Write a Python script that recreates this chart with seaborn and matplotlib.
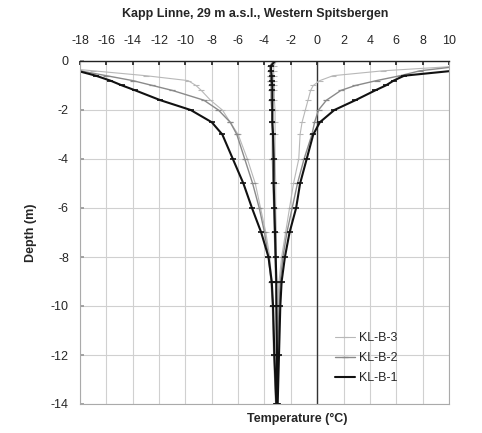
import matplotlib
matplotlib.use("Agg")
import matplotlib.pyplot as plt
from matplotlib.lines import Line2D
import seaborn as sns
import pandas as pd

sns.set_theme(style="white")
plt.rcParams['font.family'] = ['Liberation Sans', 'DejaVu Sans']
plt.rcParams['axes.unicode_minus'] = False

# depths (m)
depth = [0.2, 0.4, 0.6, 0.8, 1.0, 1.2, 1.6, 2.0, 2.5, 3.0, 4.0, 5.0, 6.0, 7.0, 8.0, 9.0, 10.0, 12.0, 14.0]
depth_mean = [0.0, 0.2, 0.4, 0.6, 0.8, 1.0, 1.2, 1.6, 2.0, 2.5, 3.0, 4.0, 5.0, 6.0, 7.0, 8.0, 9.0, 10.0, 12.0, 14.0]

# KL-B-1
b1_min = [-22.0, -18.2, -16.8, -15.7, -14.8, -13.8, -11.9, -9.6, -8.0, -7.2, -6.4, -5.6, -4.95, -4.25, -3.7, -3.45, -3.35, -3.25, -3.1]
b1_max = [12.0, 10.3, 6.6, 5.8, 5.2, 4.4, 2.9, 1.3, 0.2, -0.3, -0.8, -1.3, -1.6, -2.1, -2.45, -2.7, -2.8, -2.9, -3.0]
b1_mean = [-3.2, -3.5, -3.5, -3.45, -3.45, -3.4, -3.4, -3.4, -3.4, -3.4, -3.35, -3.3, -3.3, -3.25, -3.2, -3.15, -3.1, -3.1, -3.05, -3.05]
# KL-B-2
b2_min = [-21.0, -18.0, -16.0, -14.0, -12.5, -11.0, -8.6, -7.5, -6.6, -6.1, -5.5, -4.9, -4.4, -4.0, -3.7, -3.5, -3.4, -3.3, -3.15]
b2_max = [11.0, 7.8, 6.3, 4.5, 2.9, 1.8, 0.7, 0.1, -0.2, -0.4, -1.0, -1.5, -1.9, -2.3, -2.6, -2.8, -2.9, -3.0, -3.05]
b2_mean = [-3.3, -3.6, -3.6, -3.55, -3.55, -3.5, -3.5, -3.5, -3.45, -3.45, -3.4, -3.4, -3.35, -3.3, -3.25, -3.2, -3.15, -3.1, -3.1, -3.05]
# KL-B-3
b3_min = [-21.0, -17.0, -13.0, -9.8, -9.2, -8.8, -8.1, -7.2, -6.6, -6.0, -5.3, -4.7, -4.3, -3.9, -3.6, -3.45, -3.35, -3.25, -3.15]
b3_max = [11.0, 5.0, 1.2, 0.2, -0.3, -0.5, -0.7, -0.9, -1.15, -1.3, -1.4, -1.8, -2.1, -2.4, -2.7, -2.9, -3.0, -3.05, -3.1]
b3_mean = [-3.1, -3.3, -3.3, -3.3, -3.3, -3.25, -3.25, -3.25, -3.2, -3.2, -3.2, -3.2, -3.15, -3.15, -3.1, -3.1, -3.1, -3.05, -3.05, -3.05]

series_names = ["KL-B-3", "KL-B-2", "KL-B-1"]
data = {
    "KL-B-1": (b1_min, b1_mean, b1_max),
    "KL-B-2": (b2_min, b2_mean, b2_max),
    "KL-B-3": (b3_min, b3_mean, b3_max),
}
styles = {
    "KL-B-3": dict(color="#b8b8b8", lw=0.8, ms=4.5, mew=0.8),
    "KL-B-2": dict(color="#8a8a8a", lw=1.0, ms=4.5, mew=0.9),
    "KL-B-1": dict(color="#111111", lw=1.5, ms=5, mew=1.2),
}

rows = []
for name, (mn, me, mx) in data.items():
    for t, d in zip(mn, depth):
        rows.append((name, "min", t, -d))
    for t, d in zip(me, depth_mean):
        rows.append((name, "mean", t, -d))
    for t, d in zip(mx, depth):
        rows.append((name, "max", t, -d))
df = pd.DataFrame(rows, columns=["series", "profile", "T", "depth"])

fig = plt.figure(figsize=(4.82, 4.33), dpi=100)
ax = fig.add_axes([80/482, 1-404/433, 369/482, 343/433])

ax.set_xlim(-18, 10)
ax.set_ylim(-14, 0)
ax.set_xticks(range(-18, 11, 2))
ax.set_yticks(range(-14, 1, 2))
ax.grid(True, color="#d0d0d0", lw=0.8)
ax.set_axisbelow(True)
ax.axvline(0, color="#333333", lw=1.0, zorder=1.5)

for name in series_names:
    st = styles[name]
    sub = df[df.series == name]
    for prof in ["min", "mean", "max"]:
        s = sub[sub.profile == prof]
        sns.lineplot(data=s, x="T", y="depth", sort=False, estimator=None,
                     color=st["color"], lw=st["lw"], marker="_",
                     markersize=st["ms"], markeredgewidth=st["mew"],
                     markeredgecolor=st["color"], ax=ax, legend=False)

handles = [Line2D([], [], color=styles[n]["color"], lw=styles[n]["lw"], marker="_",
                  markersize=styles[n]["ms"], markeredgewidth=styles[n]["mew"]) for n in series_names]
ax.legend(handles, series_names, loc="lower left", bbox_to_anchor=(0.66, 0.025),
          frameon=False, fontsize=9, handlelength=1.6, labelspacing=0.65,
          handletextpad=0.3)

ax.xaxis.tick_top()
ax.xaxis.set_label_position("bottom")
ax.tick_params(axis="x", direction="in", length=3, color="#222222", labelsize=9, pad=10, top=True, bottom=False)
ax.tick_params(axis="y", direction="in", length=3, color="#999999", labelsize=9, pad=8, left=True)
for sp in ["left", "right", "bottom"]:
    ax.spines[sp].set_color("#aaaaaa")
    ax.spines[sp].set_linewidth(0.8)
ax.spines["top"].set_color("#222222")
ax.spines["top"].set_linewidth(1.0)

ax.set_xlabel("Temperature (°C)", fontsize=9, fontweight="bold")
ax.xaxis.set_label_coords(0.59, -0.025, transform=ax.transAxes)
ax.xaxis.label.set_va("top")
ax.set_ylabel("Depth (m)", fontsize=9, fontweight="bold", labelpad=10)
fig.text(255/482, 1-14/433, "Kapp Linne, 29 m a.s.l., Western Spitsbergen",
         ha="center", va="center", fontsize=9, fontweight="bold")

fig.savefig("out.png", dpi=100)
